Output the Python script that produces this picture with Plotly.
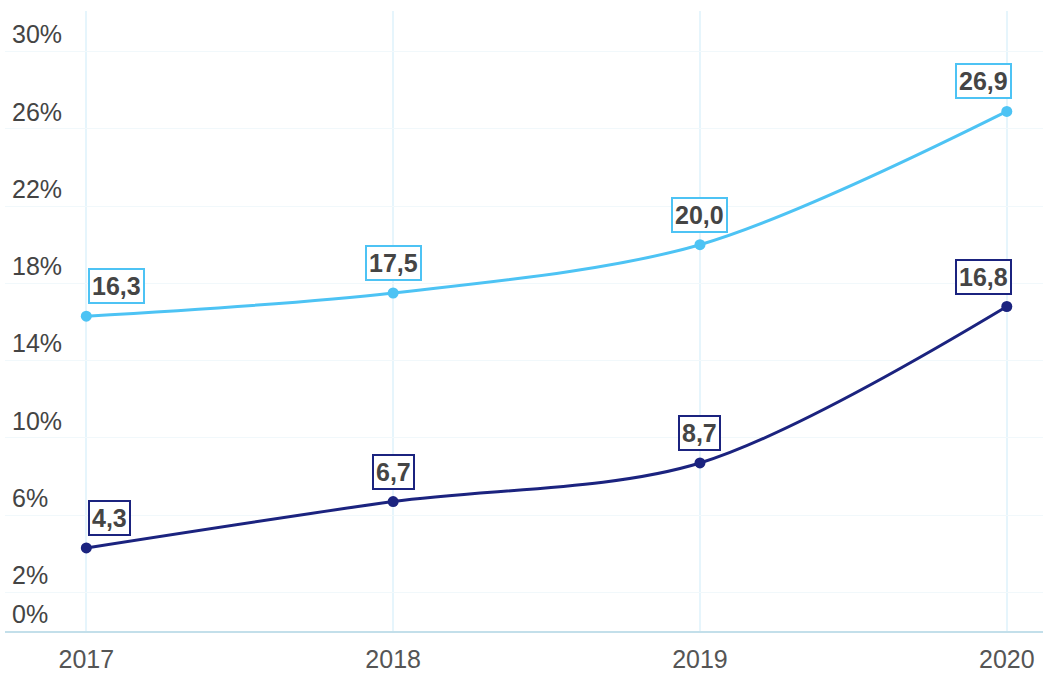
import plotly.graph_objects as go

years = [2017, 2018, 2019, 2020]
light_values = [16.3, 17.5, 20.0, 26.9]
dark_values = [4.3, 6.7, 8.7, 16.8]
y_ticks = [0, 2, 6, 10, 14, 18, 22, 26, 30]

LIGHT = "#4DC3F4"
DARK = "#1B237F"
Y_MAX = 32.1
LABEL_OFFSET = 0.88  # tick labels sit ~17px above their gridlines


def fmt(v):
    return f"{v:.1f}".replace(".", ",")


fig = go.Figure()

for values, color in [(light_values, LIGHT), (dark_values, DARK)]:
    fig.add_trace(
        go.Scatter(
            x=years,
            y=values,
            mode="lines+markers",
            line=dict(color=color, width=3, shape="spline", smoothing=0.9),
            marker=dict(color=color, size=11),
            showlegend=False
        ))
    # boxed value labels above each point
    for i, (x, v) in enumerate(zip(years, values)):
        if i == 0:
            anchor, xshift = "left", 2
        elif i == len(years) - 1:
            anchor, xshift = "right", 5
        else:
            anchor, xshift = "center", 0
        fig.add_annotation(
            x=x, y=v, text="<b>" + fmt(v) + "</b>",
            showarrow=False, xanchor=anchor, yanchor="bottom",
            xshift=xshift, yshift=12,
            font=dict(size=25, color="#454545", family="Liberation Sans"),
            bgcolor="white", bordercolor=color, borderwidth=2, borderpad=2
        )

# empty trace so the label axis gets drawn
fig.add_trace(go.Scatter(x=[], y=[], yaxis="y2", showlegend=False))

fig.update_layout(
    width=1043, height=673,
    margin=dict(l=5, r=0, t=11, b=40),
    plot_bgcolor="white", paper_bgcolor="white",
    font=dict(family="Liberation Sans", size=25, color="#555555"),
    yaxis=dict(
        range=[0, Y_MAX],
        tickvals=y_ticks,
        showticklabels=False,
        showgrid=True, gridcolor="#F1F8FB", gridwidth=1,
        zeroline=False, showline=False, ticks=""
    ),
    yaxis2=dict(
        overlaying="y", side="left",
        range=[-LABEL_OFFSET, Y_MAX - LABEL_OFFSET],
        tickvals=y_ticks,
        ticktext=[f"{t}%" for t in y_ticks],
        ticklabelposition="inside",
        ticklabelstandoff=4,
        showgrid=False, zeroline=False, showline=False, ticks=""
    )
)
fig.update_xaxes(
    range=[2016.735, 2020.118],
    tickvals=years,
    ticklabelstandoff=5,
    showgrid=True, gridcolor="#E6F5FC", gridwidth=2,
    showline=True, linecolor="#C3DFEA", linewidth=2,
    zeroline=False, ticks=""
)

fig.write_html("out.html", config={"displayModeBar": False},
               post_script="document.body.style.margin='0';")
